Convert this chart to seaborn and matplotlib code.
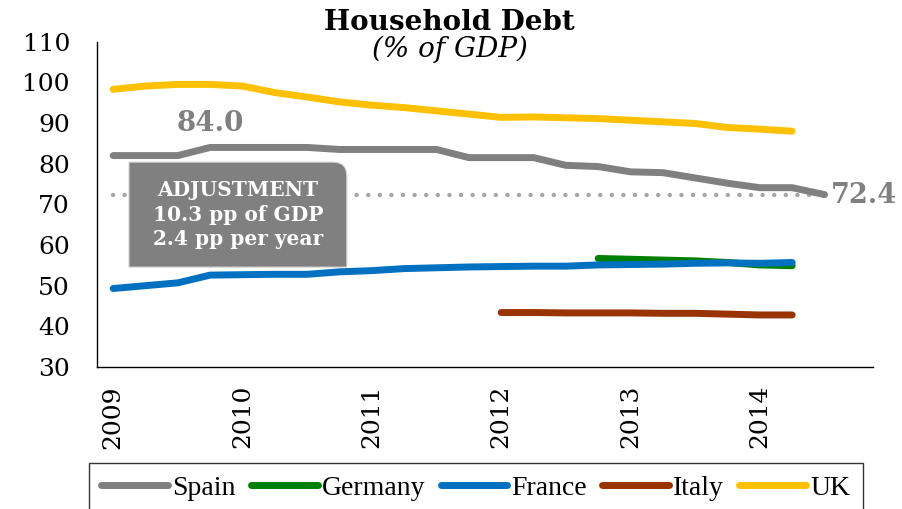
import numpy as np
import pandas as pd
import seaborn as sns
import matplotlib.pyplot as plt
from matplotlib.path import Path
from matplotlib.patches import PathPatch
from matplotlib.lines import Line2D

# quarterly categories, 2009Q1 .. 2014Q4
years = ["2009", "2010", "2011", "2012", "2013", "2014"]
quarters = [f"{y}Q{q}" for y in years for q in range(1, 5)]

countries = ["Spain", "Germany", "France", "Italy", "UK"]
colors = ["#808080", "#008000", "#0070C0", "#993300", "#FFC000"]

# first quarter index of each series
start = {"Spain": 0, "Germany": 15, "France": 0, "Italy": 12, "UK": 0}

spain = [82.0, 82.0, 82.0, 84.0, 84.0, 84.0, 84.0, 83.5, 83.5, 83.5, 83.5, 81.5,
         81.5, 81.5, 79.6, 79.3, 78.0, 77.8, 76.5, 75.2, 74.1, 74.1, 72.4]
germany = [56.7, 56.5, 56.3, 56.1, 55.7, 55.1, 54.9]
france = [49.3, 50.0, 50.7, 52.6, 52.7, 52.8, 52.8, 53.4, 53.7, 54.2, 54.4, 54.6,
          54.7, 54.8, 54.8, 55.1, 55.2, 55.3, 55.5, 55.6, 55.5, 55.7]
italy = [43.4, 43.4, 43.3, 43.3, 43.3, 43.2, 43.2, 43.0, 42.8, 42.8]
uk = [98.3, 99.1, 99.5, 99.5, 99.1, 97.5, 96.4, 95.2, 94.4, 93.8, 93.0, 92.2,
      91.4, 91.5, 91.3, 91.1, 90.7, 90.3, 89.9, 88.9, 88.5, 88.0]

peak_label = "84.0"
box_text = "ADJUSTMENT\n10.3 pp of GDP\n2.4 pp per year"

series = {"Spain": spain, "Germany": germany, "France": france, "Italy": italy, "UK": uk}
rows = []
for name, vals in series.items():
    for i, v in enumerate(vals):
        rows.append({"q": start[name] + i, "value": v, "country": name})
df = pd.DataFrame(rows)

sns.set_style("white")
plt.rcParams["font.family"] = ["DejaVu Serif"]
plt.rcParams["text.color"] = "black"
plt.rcParams["xtick.color"] = "black"
plt.rcParams["ytick.color"] = "black"

fig = plt.figure(figsize=(9.03, 5.09), dpi=100)
ax = fig.add_axes([0.1074, 0.279, 0.8594, 0.639])

sns.lineplot(data=df, x="q", y="value", hue="country", hue_order=countries,
             palette=colors, linewidth=5, solid_capstyle="round",
             legend=False, ax=ax, zorder=3)

# dotted reference line at Spain's last value
last = spain[-1]
ax.plot([0, len(spain) - 1], [last, last], color="#A6A6A6", lw=3.2,
        linestyle=(0, (0.01, 2.6)), dash_capstyle="round", zorder=2)

ax.set_xlim(-0.5, len(quarters) - 0.5)
ax.set_ylim(30, 110)
ax.set_yticks(np.arange(30, 111, 10))
ax.set_xticks(np.arange(0, len(quarters), 4))
ax.set_xticklabels(years, rotation=90)
ax.set_xticks(np.arange(-0.5, len(quarters), 4), minor=True)
ax.tick_params(axis="x", which="major", length=0, pad=13, labelsize=18)
ax.tick_params(axis="x", which="minor", length=6, width=1, color="black", direction="out")
ax.tick_params(axis="y", length=6.5, width=1, color="black", direction="out", pad=13,
               labelsize=18)
ax.set_xlabel("")
ax.set_ylabel("")
for s in ["top", "right"]:
    ax.spines[s].set_visible(False)
for s in ["left", "bottom"]:
    ax.spines[s].set_color("black")
    ax.spines[s].set_linewidth(1)

# labels for peak and last value
ax.text(3, 90, peak_label, color="#808080", fontsize=20, fontweight="bold",
        ha="center", va="center")
ax.text(len(spain) - 1 + 0.2, last - 0.2, f"{last:.1f}", color="#808080",
        fontsize=19.5, fontweight="bold", ha="left", va="center")

# grey box with one rounded corner (top right)
x0, x1, y0, y1 = 0.0412, 0.322, 0.307, 0.630
rx, ry = 14 / 776, 14 / 325
verts = [(x0, y0), (x1, y0), (x1, y1 - ry), (x1, y1), (x1 - rx, y1), (x0, y1), (x0, y0)]
codes = [Path.MOVETO, Path.LINETO, Path.LINETO, Path.CURVE3, Path.CURVE3,
         Path.LINETO, Path.CLOSEPOLY]
box = PathPatch(Path(verts, codes), transform=ax.transAxes, facecolor="#808080",
                edgecolor="#D9D9D9", lw=0.8, zorder=4)
ax.add_patch(box)
ax.text((x0 + x1) / 2, (y0 + y1) / 2, box_text, transform=ax.transAxes, color="white",
        fontsize=14.5, fontweight="bold", ha="center", va="center", linespacing=1.3,
        zorder=5)

fig.text(0.498, 0.955, "Household Debt", ha="center", va="center", fontsize=20,
         fontweight="bold")
fig.text(0.498, 0.903, "(% of GDP)", ha="center", va="center", fontsize=20,
         style="italic")

handles = [Line2D([], [], color=c, lw=5, solid_capstyle="round") for c in colors]
leg = fig.legend(handles, countries, loc="upper center", bbox_to_anchor=(0.527, 0.0904),
                 ncol=5, frameon=True, fancybox=False, edgecolor="black",
                 handlelength=2.4, handletextpad=0.15, columnspacing=0.55,
                 borderpad=0.45, borderaxespad=0,
                 prop={"family": "Liberation Serif", "size": 20})
leg.get_frame().set_linewidth(1)

fig.savefig("out.png", dpi=100)
